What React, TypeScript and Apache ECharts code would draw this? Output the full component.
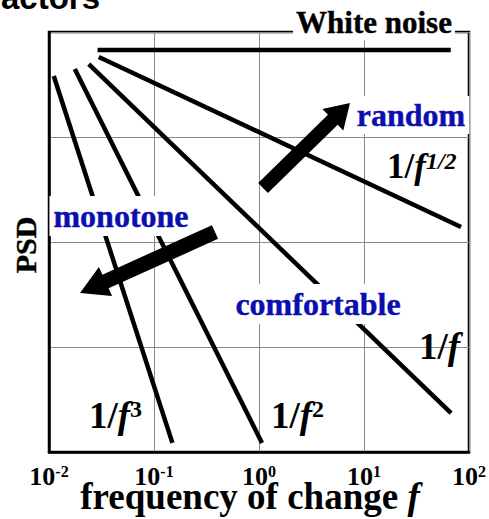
import React, { useEffect, useRef } from "react";
import * as echarts from "echarts";

// ---- data ----
const tickExponents = ["-2", "-1", "0", "1", "2"];
const xMin = 0.01;
const xMax = 100;
const yMin = 1;
const yMax = 10000;

const whiteNoise = [[0.029, 6750], [67, 6750]];
const halfPower = [[0.0298, 5780], [84, 139]];
const onePower = [[0.0239, 4955], [67.5, 2.35]];
const twoPower = [[0.0176, 4443], [1.067, 1.22]];
const threePower = [[0.0111, 3811], [0.1496, 1.22]];

const SERIF = "Liberation Serif";
const BLUE = "#0b0fb0";

function arrowPoints(x1: number, y1: number, x2: number, y2: number, sw: number, hw: number, hl: number) {
  const dx = x2 - x1, dy = y2 - y1;
  const len = Math.hypot(dx, dy);
  const ux = dx / len, uy = dy / len;
  const nx = -uy, ny = ux;
  const bx = x2 - ux * hl, by = y2 - uy * hl;
  return [
    [x1 + nx * sw / 2, y1 + ny * sw / 2],
    [bx + nx * sw / 2, by + ny * sw / 2],
    [bx + nx * hw / 2, by + ny * hw / 2],
    [x2, y2],
    [bx - nx * hw / 2, by - ny * hw / 2],
    [bx - nx * sw / 2, by - ny * sw / 2],
    [x1 - nx * sw / 2, y1 - ny * sw / 2],
  ];
}

const labelRich = (size: number, supSize: number) => ({
  n: { fontFamily: SERIF, fontWeight: "bold", fontSize: size, color: "#000" },
  i: { fontFamily: SERIF, fontWeight: "bold", fontStyle: "italic", fontSize: size, color: "#000" },
  s: { fontFamily: SERIF, fontWeight: "bold", fontStyle: "italic", fontSize: supSize, color: "#000", verticalAlign: "top" },
  d: { fontFamily: SERIF, fontWeight: "bold", fontSize: supSize, color: "#000", verticalAlign: "top" },
});

export default function App() {
  const ref = useRef<HTMLDivElement>(null);
  useEffect(() => {
    if (!ref.current) return;
    const chart = echarts.init(ref.current, null, { renderer: "svg" });
    const lineSeries = (name: string, data: number[][]) => ({
      name,
      type: "line",
      data,
      showSymbol: false,
      lineStyle: { color: "#000", width: 4.5 },
      z: 5,
    });
    const txt = (x: number, y: number, style: any, extra: any = {}) => ({
      type: "text",
      x,
      y,
      z: 100,
      ...extra,
      style: { verticalAlign: "middle", ...style },
    });
    chart.setOption({
      animation: false,
      backgroundColor: "#fff",
      textStyle: { fontFamily: SERIF },
      grid: {
        left: 49,
        right: 18,
        top: 32,
        bottom: 67,
        show: true,
        borderColor: "#000",
        borderWidth: 2.5,
      },
      xAxis: {
        type: "log",
        min: xMin,
        max: xMax,
        logBase: 10,
        splitNumber: 4,
        axisLine: { lineStyle: { color: "#000", width: 2.5 } },
        axisTick: { show: false },
        splitLine: { show: true, lineStyle: { color: "#8a8a8a", width: 1 } },
        axisLabel: {
          margin: 11,
          fontFamily: SERIF,
          formatter: (v: number) => {
            const e = Math.round(Math.log10(v));
            return `{b|10}{s|${tickExponents[e + 2]}}`;
          },
          rich: {
            b: { fontFamily: SERIF, fontWeight: "bold", fontSize: 26, color: "#000" },
            s: { fontFamily: SERIF, fontWeight: "bold", fontSize: 16, color: "#000", verticalAlign: "top" },
          },
        },
      },
      yAxis: {
        type: "log",
        min: yMin,
        max: yMax,
        logBase: 10,
        splitNumber: 4,
        axisLine: { lineStyle: { color: "#000", width: 2.5 } },
        axisTick: { show: false },
        axisLabel: { show: false },
        splitLine: { show: true, lineStyle: { color: "#8a8a8a", width: 1 } },
      },
      series: [
        lineSeries("white", whiteNoise),
        lineSeries("half", halfPower),
        lineSeries("one", onePower),
        lineSeries("two", twoPower),
        lineSeries("three", threePower),
      ],
      graphic: [
        txt(100, -3, {
          text: "Factors",
          align: "right",
          fontFamily: "Liberation Sans",
          fontWeight: "bold",
          fontSize: 33,
          fill: "#000",
        }),
        txt(374, 22, {
          text: "White noise",
          align: "center",
          fontFamily: SERIF,
          fontWeight: "bold",
          fontSize: 31,
          fill: "#000",
          stroke: "#000",
          lineWidth: 0.4,
          backgroundColor: "#fff",
          padding: [2, 3, 4, 3],
        }),
        txt(411, 115, {
          text: "random",
          align: "center",
          fontFamily: SERIF,
          fontWeight: "bold",
          fontSize: 32,
          fill: BLUE,
          stroke: BLUE,
          lineWidth: 0.4,
          backgroundColor: "#fff",
          padding: [3, 4, 3, 4],
        }),
        txt(121, 216, {
          text: "monotone",
          align: "center",
          fontFamily: SERIF,
          fontWeight: "bold",
          fontSize: 32,
          fill: BLUE,
          stroke: BLUE,
          lineWidth: 0.4,
          backgroundColor: "#fff",
          padding: [4, 4, 4, 4],
        }),
        txt(318, 304, {
          text: "comfortable",
          align: "center",
          fontFamily: SERIF,
          fontWeight: "bold",
          fontSize: 32,
          fill: BLUE,
          stroke: BLUE,
          lineWidth: 0.4,
          backgroundColor: "#fff",
          padding: [4, 6, 4, 6],
        }),
        txt(387, 166, {
          text: "{n|1/}{i|f}{s|1/2}",
          align: "left",
          fontFamily: SERIF,
          rich: labelRich(35, 24),
        }),
        txt(419, 346, {
          text: "{n|1/}{i|f}",
          align: "left",
          fontFamily: SERIF,
          rich: labelRich(37, 22),
        }),
        txt(89, 415, {
          text: "{n|1/}{i|f}{d|3}",
          align: "left",
          fontFamily: SERIF,
          rich: labelRich(37, 24),
        }),
        txt(271, 415, {
          text: "{n|1/}{i|f}{d|2}",
          align: "left",
          fontFamily: SERIF,
          rich: labelRich(37, 24),
        }),
        txt(250, 496, {
          text: "{n|frequency of change }{i|f}",
          align: "center",
          fontFamily: SERIF,
          rich: labelRich(37, 20),
        }),
        txt(25, 245, {
          text: "PSD",
          align: "center",
          fontFamily: SERIF,
          fontWeight: "bold",
          fontSize: 30,
          fill: "#000",
          stroke: "#000",
          lineWidth: 0.4,
        }, { rotation: Math.PI / 2 }),
        {
          type: "polygon",
          z: 110,
          shape: { points: arrowPoints(215, 232, 80, 293, 15, 32, 28) },
          style: { fill: "#000" },
        },
        {
          type: "polygon",
          z: 110,
          shape: { points: arrowPoints(263, 188, 350, 103, 14, 30, 24) },
          style: { fill: "#000" },
        },
      ],
    });
    return () => chart.dispose();
  }, []);
  return (
    <div
      ref={ref}
      style={{ position: "fixed", left: 0, top: 0, width: 489, height: 519 }}
    />
  );
}
